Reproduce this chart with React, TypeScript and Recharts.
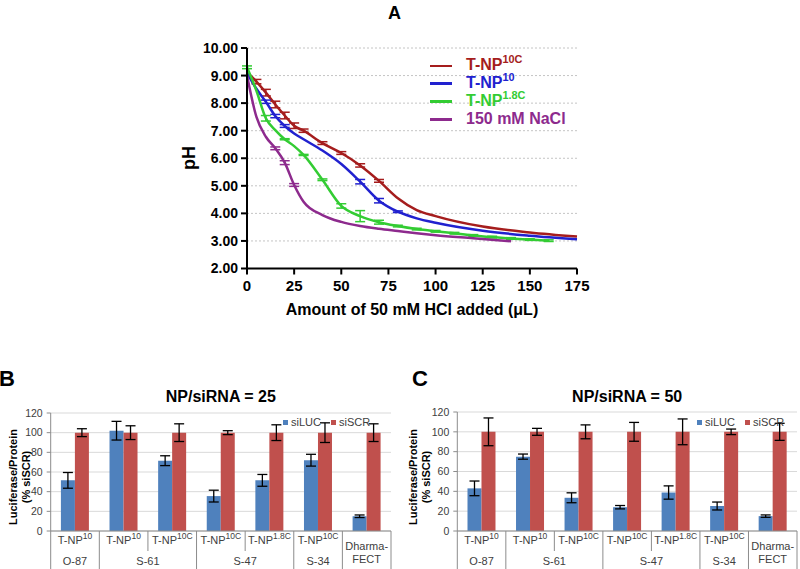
import React from 'react';
import {
  LineChart,
  Line,
  BarChart,
  Bar,
  XAxis,
  YAxis,
  CartesianGrid,
  Legend,
  ErrorBar,
  Label
} from 'recharts';

const FONT = '"Liberation Sans", Arial, Helvetica, sans-serif';

// ---- panel A: titration curves ----
const xTicksA = [0, 25, 50, 75, 100, 125, 150, 175];
const yTicksA = [2, 3, 4, 5, 6, 7, 8, 9, 10];

const np10cX = [0, 5, 10, 15, 20, 25, 30, 40, 50, 60, 70, 80, 90, 100, 125, 150, 175];
const np10cPH = [9.12, 8.78, 8.38, 7.95, 7.55, 7.18, 7.0, 6.55, 6.19, 5.74, 5.18, 4.55, 4.12, 3.9, 3.52, 3.31, 3.16];
const np10cErr = [null, 0.08, 0.12, 0.12, 0.12, 0.1, 0.06, 0.05, 0.05, 0.06, 0.05, null, null, null, null, null, null];

const np10X = [0, 5, 10, 15, 20, 25, 30, 40, 50, 60, 70, 80, 90, 100, 125, 150, 175];
const np10PH = [9.1, 8.52, 8.05, 7.53, 7.17, 6.9, 6.69, 6.28, 5.79, 5.15, 4.46, 4.06, 3.82, 3.66, 3.37, 3.19, 3.06];
const np10Err = [null, null, 0.06, 0.06, 0.05, null, null, null, null, 0.08, 0.08, 0.03, null, null, null, null, null];

const np18cX = [0, 5, 10, 15, 20, 25, 30, 40, 50, 60, 70, 80, 90, 100, 110, 120, 130, 140, 150, 160];
const np18cPH = [9.3, 8.45, 7.45, 7.02, 6.69, 6.44, 6.12, 5.22, 4.27, 3.9, 3.68, 3.54, 3.43, 3.35, 3.28, 3.2, 3.14, 3.09, 3.05, 3.01];
const np18cErr = [0.05, null, 0.1, null, 0.02, null, 0.02, 0.03, 0.08, 0.2, 0.07, 0.03, 0.03, 0.03, 0.03, 0.03, 0.03, 0.03, 0.03, 0.03];

const naclX = [0, 5, 10, 15, 20, 25, 30, 40, 50, 60, 70, 80, 90, 100, 120, 140];
const naclPH = [9.0, 7.5, 6.78, 6.36, 5.84, 5.03, 4.42, 3.94, 3.69, 3.54, 3.44, 3.36, 3.28, 3.21, 3.1, 2.99];
const naclErr = [null, null, null, 0.05, 0.07, 0.05, null, null, null, null, null, null, null, null, null, null];

const zip = (xs: number[], ys: number[], es: (number | null)[]) =>
  xs.map((x, i) => ({ x, ph: ys[i], err: es[i] }));

const seriesA = [
  { name: 'T-NP10C', color: '#a51d1d', data: zip(np10cX, np10cPH, np10cErr) },
  { name: 'T-NP10', color: '#2121cf', data: zip(np10X, np10PH, np10Err) },
  { name: 'T-NP1.8C', color: '#33cc33', data: zip(np18cX, np18cPH, np18cErr) },
  { name: '150 mM NaCl', color: '#8d2a8d', data: zip(naclX, naclPH, naclErr) }
];
const seriesOrder = seriesA.map((s) => s.name);

// ---- panels B and C: knockdown bars ----
const barCategories = ['T-NP10', 'T-NP10', 'T-NP10C', 'T-NP10C', 'T-NP1.8C', 'T-NP10C', 'Dharma-FECT'];
const barGroups = ['O-87', 'S-61', 'S-61', 'S-47', 'S-47', 'S-34', 'Dharma-FECT'];
const barTicks = [0, 20, 40, 60, 80, 100, 120];

const luc25 = [51.5, 102, 71.5, 35.5, 51.5, 72, 15];
const luc25Err = [8, 9.5, 5, 6, 6, 6, 1.3];
const scr25 = [100, 100, 100, 100, 100, 100, 100];
const scr25Err = [4, 7, 9, 2, 8, 10, 9];

const luc50 = [43, 75, 33.5, 24, 38.8, 25.2, 15];
const luc50Err = [7.4, 2.6, 5, 1.7, 6.7, 4, 1.2];
const scr50 = [100, 100, 100, 100, 100, 100, 100];
const scr50Err = [14, 3.5, 7, 9.5, 13, 2.8, 8.6];

const LUC_COLOR = '#4f81bd';
const SCR_COLOR = '#c0504d';
const TABLE_LINE = '#8c8c8c';

const SeriesName = ({ name }: { name: string }) => {
  if (name.startsWith('T-NP')) {
    return (
      <>
        T-NP
        <span style={{ fontSize: '0.68em', position: 'relative', top: '-0.6em' }}>{name.slice(4)}</span>
      </>
    );
  }
  return <>{name}</>;
};

const LegendA = (props: any) => {
  const items = [...(props.payload || [])].sort(
    (a: any, b: any) => seriesOrder.indexOf(a.value) - seriesOrder.indexOf(b.value)
  );
  return (
    <div style={{ fontFamily: FONT, fontWeight: 'bold', fontSize: 16 }}>
      {items.map((p: any) => (
        <div key={p.value} style={{ display: 'flex', alignItems: 'center', height: 17.8, color: p.color }}>
          <div style={{ width: 22, height: 2.5, background: p.color, marginRight: 14 }} />
          <span style={{ lineHeight: '17.8px', whiteSpace: 'nowrap' }}>
            <SeriesName name={p.value} />
          </span>
        </div>
      ))}
    </div>
  );
};

const LegendBars = (props: any) => {
  const items = props.payload || [];
  return (
    <div style={{ display: 'flex', fontFamily: FONT, fontSize: 11, color: '#404040' }}>
      {items.map((p: any) => (
        <div key={p.value} style={{ display: 'flex', alignItems: 'center', marginRight: 10, height: 12 }}>
          <div style={{ width: 5, height: 5, background: p.color, marginRight: 3 }} />
          <span>{p.value}</span>
        </div>
      ))}
    </div>
  );
};

// name with superscript, e.g. T-NP^10C
const supText = (label: string, x: number, y: number) => {
  const base = label.startsWith('T-NP') ? 'T-NP' : label;
  const sup = label.startsWith('T-NP') ? label.slice(4) : '';
  return (
    <text x={x} y={y} textAnchor="middle" dominantBaseline="central" fontSize={11} fill="#404040" fontFamily={FONT}>
      {base}
      {sup && (
        <tspan fontSize={8.5} dy={-4}>
          {sup}
        </tspan>
      )}
    </text>
  );
};

const CategoryTick = (props: any) => {
  const { x, y, payload } = props;
  const i = payload.index ?? props.index;
  const off = payload.offset || 24.3;
  const cat = barCategories[i];
  const grp = barGroups[i];
  const left = x - off;
  const firstOfGroup = i === 0 || barGroups[i - 1] !== grp;
  const span = barGroups.filter((g) => g === grp).length;
  const last = i === barCategories.length - 1;
  return (
    <g>
      <line x1={left} x2={left} y1={y} y2={y + (firstOfGroup ? 40 : 20)} stroke={TABLE_LINE} />
      {last && <line x1={x + off} x2={x + off} y1={y} y2={y + 40} stroke={TABLE_LINE} />}
      {cat === grp ? (
        <>
          {supText(cat.split('-')[0] + '-', x, y + 14.5)}
          {supText(cat.split('-')[1], x, y + 27.5)}
        </>
      ) : (
        <>
          {supText(cat, x, y + 9)}
          {firstOfGroup && supText(grp, left + span * off, y + 30)}
        </>
      )}
    </g>
  );
};

type BarPanelProps = {
  left: number;
  title: string;
  letter: string;
  luc: number[];
  lucErr: number[];
  scr: number[];
  scrErr: number[];
  marginLeft: number;
  marginRight: number;
  marginTop: number;
  legendLeft: number;
};

const BarPanel = (p: BarPanelProps) => {
  const data = barCategories.map((c, i) => ({
    key: `${barGroups[i]}|${c}|${i}`,
    siLUC: p.luc[i],
    lucErr: p.lucErr[i],
    siSCR: p.scr[i],
    scrErr: p.scrErr[i]
  }));
  const plotCenter = (p.marginLeft + 26 + 400 - p.marginRight) / 2;
  return (
    <div style={{ position: 'absolute', left: p.left, top: 330, width: 400, height: 239 }}>
      <div style={{ position: 'absolute', left: p.left === 0 ? -1 : 12, top: 38, fontSize: 22, fontWeight: 'bold', fontFamily: FONT, lineHeight: '22px' }}>
        {p.letter}
      </div>
      <div style={{ position: 'absolute', left: plotCenter - 100, width: 200, top: 58, textAlign: 'center', fontSize: 16, fontWeight: 'bold', fontFamily: FONT, lineHeight: '18px' }}>
        {p.title}
      </div>
      <BarChart
        width={400}
        height={239}
        data={data}
        margin={{ top: p.marginTop, right: p.marginRight, bottom: 0, left: p.marginLeft }}
        barCategoryGap="21%"
        barGap={0}
        style={{ position: 'absolute', left: 0, top: 0 }}
      >
        <CartesianGrid vertical={false} stroke="#d9d9d9" />
        <XAxis
          dataKey="key"
          height={38}
          interval={0}
          tickLine={false}
          tickSize={0}
          tickMargin={0}
          axisLine={{ stroke: TABLE_LINE }}
          tick={<CategoryTick />}
        />
        <YAxis
          width={26}
          domain={[0, 120]}
          ticks={barTicks}
          interval={0}
          tickSize={4}
          tickMargin={4}
          axisLine={{ stroke: TABLE_LINE }}
          tickLine={{ stroke: TABLE_LINE }}
          tick={{ fontSize: 10.5, fill: '#404040', fontFamily: FONT }}
        >
          <Label
            content={() => (
              <g fontFamily={FONT} fontWeight="bold" fontSize={11} fill="#000">
                <text x={13} y={147} transform="rotate(-90 13 147)" textAnchor="middle" dominantBaseline="central">
                  Luciferase/Protein
                </text>
                <text x={26} y={147} transform="rotate(-90 26 147)" textAnchor="middle" dominantBaseline="central">
                  (% siSCR)
                </text>
              </g>
            )}
          />
        </YAxis>
        <YAxis yAxisId="frame" orientation="right" width={0} tick={false} tickLine={false} axisLine={{ stroke: TABLE_LINE }} />
        <Legend
          layout="vertical"
          align="center"
          verticalAlign="middle"
          wrapperStyle={{ left: p.legendLeft, top: 86, width: 'auto' }}
          content={<LegendBars />}
        />
        <Bar dataKey="siLUC" name="siLUC" fill={LUC_COLOR} isAnimationActive={false}>
          <ErrorBar dataKey="lucErr" width={5} stroke="#000" strokeWidth={1.3} direction="y" />
        </Bar>
        <Bar dataKey="siSCR" name="siSCR" fill={SCR_COLOR} isAnimationActive={false}>
          <ErrorBar dataKey="scrErr" width={5} stroke="#000" strokeWidth={1.3} direction="y" />
        </Bar>
      </BarChart>
    </div>
  );
};

export default function App() {
  return (
    <div style={{ position: 'absolute', left: 0, top: 0, width: 800, height: 569, background: '#fff', fontFamily: FONT, overflow: 'hidden' }}>
      <div style={{ position: 'absolute', left: 388, top: 3, fontSize: 18, fontWeight: 'bold', lineHeight: '20px' }}>A</div>
      <LineChart
        width={800}
        height={330}
        margin={{ top: 48, right: 223, bottom: 21.5, left: 187 }}
        style={{ position: 'absolute', left: 0, top: 0 }}
      >
        <CartesianGrid vertical={false} stroke="#c4c4c4" strokeDasharray="2 2" />
        <XAxis
          dataKey="x"
          type="number"
          domain={[0, 175]}
          ticks={xTicksA}
          interval={0}
          height={40}
          tickSize={6}
          tickMargin={6}
          axisLine={{ stroke: '#000', strokeWidth: 2 }}
          tickLine={{ stroke: '#000', strokeWidth: 2 }}
          tick={{ fontSize: 15, fontWeight: 'bold', fill: '#000', fontFamily: FONT }}
        >
          <Label
            value="Amount of 50 mM HCl added (μL)"
            position="insideBottom"
            offset={-6}
            fill="#000"
            style={{ fontSize: 16, fontWeight: 'bold', fontFamily: FONT, fill: '#000' }}
          />
        </XAxis>
        <YAxis
          type="number"
          domain={[2, 10]}
          ticks={yTicksA}
          interval={0}
          width={60}
          tickSize={6}
          tickMargin={3}
          tickFormatter={(v: number) => v.toFixed(2)}
          axisLine={{ stroke: '#000', strokeWidth: 2 }}
          tickLine={{ stroke: '#000', strokeWidth: 2 }}
          tick={{ fontSize: 14, fontWeight: 'bold', fill: '#000', fontFamily: FONT }}
        >
          <Label
            content={() => (
              <text x={189} y={158} transform="rotate(-90 189 158)" textAnchor="middle" dominantBaseline="central" fontSize={18} fontWeight="bold" fontFamily={FONT} fill="#000">
                pH
              </text>
            )}
          />
        </YAxis>
        <Legend
          layout="vertical"
          align="center"
          verticalAlign="middle"
          wrapperStyle={{ left: 430, top: 57, width: 'auto' }}
          content={<LegendA />}
        />
        {seriesA.map((s) => (
          <Line
            key={s.name}
            data={s.data}
            dataKey="ph"
            name={s.name}
            type="monotone"
            stroke={s.color}
            strokeWidth={2.5}
            dot={false}
            isAnimationActive={false}
          >
            <ErrorBar dataKey="err" width={5} stroke={s.color} strokeWidth={1.5} direction="y" />
          </Line>
        ))}
      </LineChart>
      <BarPanel
        left={0}
        letter="B"
        title="NP/siRNA = 25"
        luc={luc25}
        lucErr={luc25Err}
        scr={scr25}
        scrErr={scr25Err}
        marginLeft={24.7}
        marginRight={9}
        marginTop={83}
        legendLeft={283}
      />
      <BarPanel
        left={400}
        letter="C"
        title="NP/siRNA = 50"
        luc={luc50}
        lucErr={luc50Err}
        scr={scr50}
        scrErr={scr50Err}
        marginLeft={31.3}
        marginRight={3}
        marginTop={82}
        legendLeft={297}
      />
    </div>
  );
}
